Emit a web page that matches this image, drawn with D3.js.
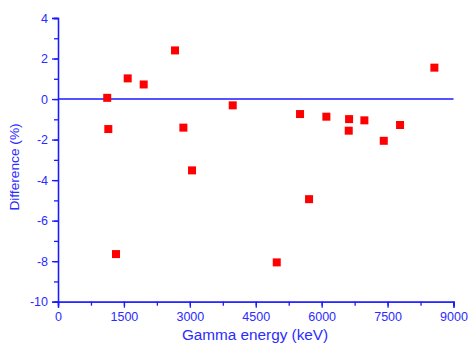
<!DOCTYPE html>
<html>
<head>
<meta charset="utf-8">
<script src="https://cdn.jsdelivr.net/npm/d3@7"></script>
<style>
	body { margin: 0; background: #fff; }
	text { font-family: "Liberation Sans", Arial, sans-serif; fill: #2b2bff; }
</style>
</head>
<body>
<div id="chart"></div>
<script>
// gamma energies (keV) and relative difference (%)
var energy = [1120, 1145, 1320, 1586, 1950, 2663, 2853, 3050, 3976, 4978,
	5508, 5713, 6107, 6624, 6616, 6972, 7413, 7784, 8565];
var difference = [0.06, -1.48, -7.65, 1.02, 0.72, 2.40, -1.41, -3.52, -0.31, -8.06,
	-0.74, -4.94, -0.87, -0.99, -1.56, -1.05, -2.06, -1.28, 1.55];

var xTicks = [0, 1500, 3000, 4500, 6000, 7500, 9000];
var yTicks = [4, 2, 0, -2, -4, -6, -8, -10];

var width = 469, height = 345;
var axisColour = "#1a1aff";

var svg = d3.select("#chart").append("svg")
	.attr("width", width)
	.attr("height", height);

var x = d3.scaleLinear().domain([0, 9000]).range([58, 453.5]);
var y = d3.scaleLinear().domain([-10, 4]).range([301.7, 18]);

// plain labels, hyphen minus like the original
var plain = function(d) { return String(d); };

// minor ticks first, then the major ones on top
var xAxisMinor = d3.axisBottom(x).tickValues(d3.range(0, 9001, 750)).tickSize(4).tickFormat("");
var yAxisMinor = d3.axisLeft(y).tickValues(d3.range(-10, 4.1, 1)).tickSize(4).tickFormat("");

svg.append("g").attr("transform", "translate(0," + y(-10) + ")").call(xAxisMinor);
svg.append("g").attr("transform", "translate(" + x(0) + ",0)").call(yAxisMinor);

var xAxis = svg.append("g")
	.attr("transform", "translate(0," + y(-10) + ")")
	.call(d3.axisBottom(x).tickValues(xTicks).tickSize(6).tickPadding(4).tickFormat(plain));
var yAxis = svg.append("g")
	.attr("transform", "translate(" + x(0) + ",0)")
	.call(d3.axisLeft(y).tickValues(yTicks).tickSize(6).tickPadding(4).tickFormat(plain));

svg.selectAll(".domain, .tick line").attr("stroke", axisColour).attr("stroke-width", 1.3);
svg.selectAll(".tick text")
	.attr("fill", "#2b2bff")
	.style("font-size", "12.5px")
	.style("font-family", "Liberation Sans, Arial, sans-serif");

// zero reference line
svg.append("line")
	.attr("x1", x(0)).attr("x2", x(9000))
	.attr("y1", y(0)).attr("y2", y(0))
	.attr("stroke", axisColour)
	.attr("stroke-width", 1.5);

// points
var sz = 8;
svg.selectAll("rect.pt").data(energy).enter().append("rect")
	.attr("class", "pt")
	.attr("x", function(d) { return x(d) - sz / 2; })
	.attr("y", function(d, i) { return y(difference[i]) - sz / 2; })
	.attr("width", sz)
	.attr("height", sz)
	.attr("fill", "#ff0000");

// axis titles
svg.append("text")
	.attr("x", 255).attr("y", 340)
	.attr("text-anchor", "middle")
	.style("font-size", "15.3px")
	.text("Gamma energy (keV)");

svg.append("text")
	.attr("transform", "translate(19," + 167 + ") rotate(-90)")
	.attr("text-anchor", "middle")
	.style("font-size", "13.7px")
	.text("Difference (%)");
</script>
</body>
</html>
